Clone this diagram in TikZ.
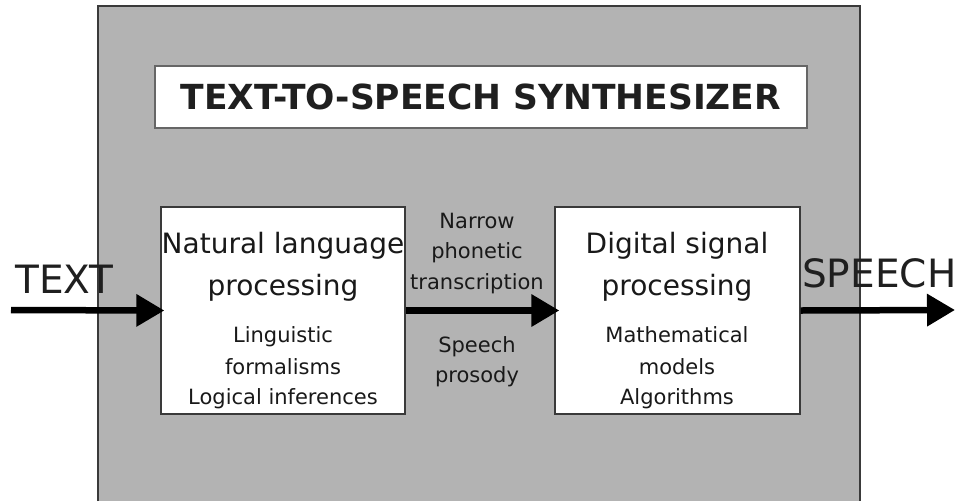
\documentclass[tikz,border=0pt]{standalone}
\usepackage{fontspec}
\setmainfont{DejaVu Sans}
\usetikzlibrary{arrows.meta}
\definecolor{panel}{HTML}{B3B3B3}
\definecolor{frame}{HTML}{3A3A3A}
\tikzset{
  block/.style={draw=frame, line width=1.3pt, fill=white, inner sep=0pt},
  bigtxt/.style={anchor=base, inner sep=0pt, font=\fontsize{28}{30}\selectfont, text=black!90},
  smalltxt/.style={anchor=base, inner sep=0pt, font=\fontsize{21}{23}\selectfont, text=black!90},
  iotxt/.style={anchor=base west, inner sep=0pt, font=\fontsize{39}{41}\selectfont, text=black!88},
  flow/.style={line width=6.5pt, -{Triangle[length=28pt, width=31pt]}}
}
\begin{document}
\begin{tikzpicture}[x=1pt, y=-1pt]
\useasboundingbox (0,0) rectangle (958,501);

% grey synthesizer panel, open at the bottom
\fill[panel] (98,6) rectangle (860,501);
\draw[frame, line width=1.6pt] (98,501) -- (98,6) -- (860,6) -- (860,501);

% title banner
\node[draw=black!60, line width=1.2pt, fill=white, minimum width=652pt, minimum height=62pt, inner sep=0pt]
  (title) at (481,97) {};
\node[anchor=center, inner sep=0pt, font=\fontsize{34.5}{36}\selectfont\bfseries, text=black!88]
  (titletxt) at (481,97) {TEXT-TO-SPEECH SYNTHESIZER};

% processing blocks
\node[block, minimum width=244pt, minimum height=207pt] (nlp) at (283,310.5) {};
\node[block, minimum width=245pt, minimum height=207pt] (dsp) at (677.5,310.5) {};

% block captions
\node[bigtxt] (nlp1) at (283,253) {Natural language};
\node[bigtxt] (nlp2) at (283,295) {processing};
\node[smalltxt] (nlp3) at (283,342) {Linguistic};
\node[smalltxt] (nlp4) at (283,374) {formalisms};
\node[smalltxt] (nlp5) at (283,404) {Logical inferences};

\node[bigtxt] (dsp1) at (677,253) {Digital signal};
\node[bigtxt] (dsp2) at (677,295) {processing};
\node[smalltxt] (dsp3) at (677,342) {Mathematical};
\node[smalltxt] (dsp4) at (677,374) {models};
\node[smalltxt] (dsp5) at (677,404) {Algorithms};

% labels on the link between the blocks
\node[smalltxt] (mid1) at (477,228) {Narrow};
\node[smalltxt] (mid2) at (477,258) {phonetic};
\node[smalltxt] (mid3) at (477,289) {transcription};
\node[smalltxt] (mid4) at (477,352) {Speech};
\node[smalltxt] (mid5) at (477,382) {prosody};

% input and output
\node[iotxt] (textin) at (15,293) {TEXT};
\node[iotxt] (speechout) at (802,287) {SPEECH};
\coordinate (src) at (11,310);
\coordinate (sink) at (955,310);

% flow arrows, tips reaching just inside the blocks
\draw[flow] (src) -- ([xshift=4pt]nlp.west);
\draw[flow] (nlp.east) -- ([xshift=5pt]dsp.west);
\draw[flow] (dsp.east) -- (sink);
\end{tikzpicture}
\end{document}
